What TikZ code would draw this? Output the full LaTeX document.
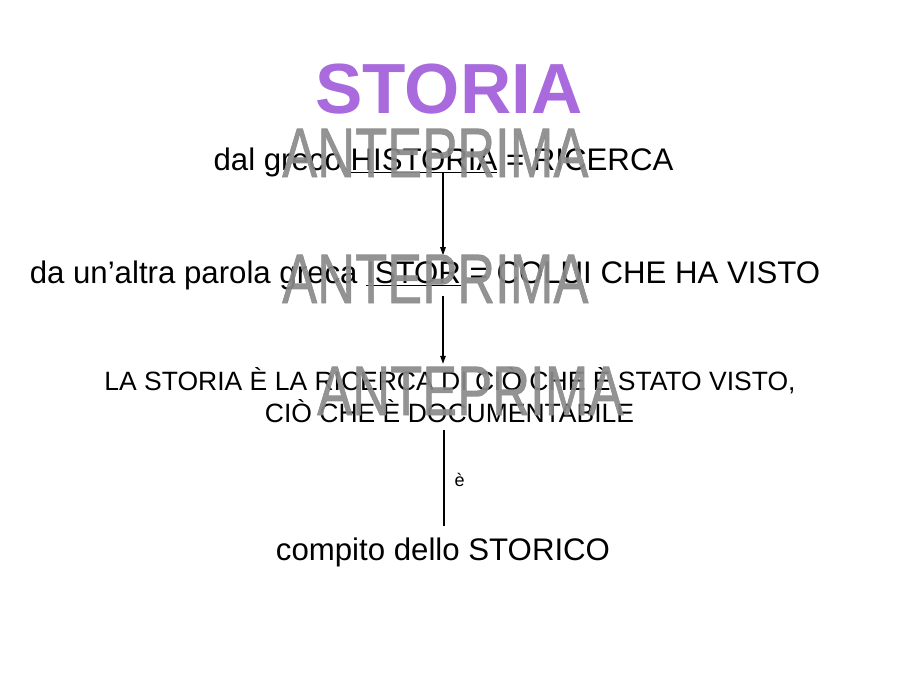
\documentclass[tikz,border=0pt]{standalone}
\usepackage{fontspec}
\setmainfont{Liberation Sans}
\newfontfamily\wmfont[FakeBold=1.0]{Liberation Sans}
\usetikzlibrary{arrows.meta}
\definecolor{titlepurple}{RGB}{168,106,220}
\definecolor{wmgray}{RGB}{138,138,138}
\tikzset{
  txt/.style={inner sep=0pt, anchor=base, text depth=0pt, font=\fontsize{31.2}{37}\selectfont},
  smalltxt/.style={inner sep=0pt, anchor=base, text depth=0pt, font=\fontsize{26.5}{32}\selectfont},
  titletxt/.style={inner sep=0pt, anchor=base, text=titlepurple, font=\fontsize{71}{80}\selectfont\bfseries},
  wmark/.style={inner sep=0pt, anchor=base west, text=wmgray, opacity=0.92, font=\wmfont\fontsize{70}{80}\selectfont},
  conn/.style={line width=1.1pt, draw=black},
  arr/.style={conn, -{Triangle[length=8pt,width=5.5pt]}},
}
\newcommand{\wmtext}{\scalebox{0.75}[1]{ANTEPRIMA}}
\begin{document}
\begin{tikzpicture}[x=1pt,y=-1pt]
\useasboundingbox (0,0) rectangle (900,675);
\node[titletxt] (title) at (449,113) {STORIA};
\node[txt] (l1) at (443.5,170) {dal greco \underline{HISTORIA} = RICERCA};
\node[txt] (l2) at (425,283) {da un’altra parola greca \underline{ISTOR} = COLUI CHE HA VISTO};
\node[smalltxt] (l3a) at (450,390) {LA STORIA È LA RICERCA DI CIÒ CHE È STATO VISTO,};
\node[smalltxt] (l3b) at (449.5,422) {CIÒ CHE È DOCUMENTABILE};
\node[txt] (l5) at (443,560) {compito dello STORICO};
\draw[arr, shorten <=2pt, shorten >=5pt] (l1.south -| 443,0) -- (l2.north -| 443,0);
\draw[arr, shorten <=13pt, shorten >=3pt] (l2.south -| 443,0) -- (l3a.north -| 443,0);
\draw[conn, shorten <=8pt, shorten >=11pt] (l3b.south -| 444,0) -- node[right, inner sep=0pt, xshift=10pt, font=\fontsize{18}{22}\selectfont] (lbl) {è} (l5.north -| 444,0);
\node[wmark] (wm1) at (282,177) {\wmtext};
\node[wmark] (wm2) at (282,303) {\wmtext};
\node[wmark] (wm3) at (317,415) {\wmtext};
\end{tikzpicture}
\end{document}
